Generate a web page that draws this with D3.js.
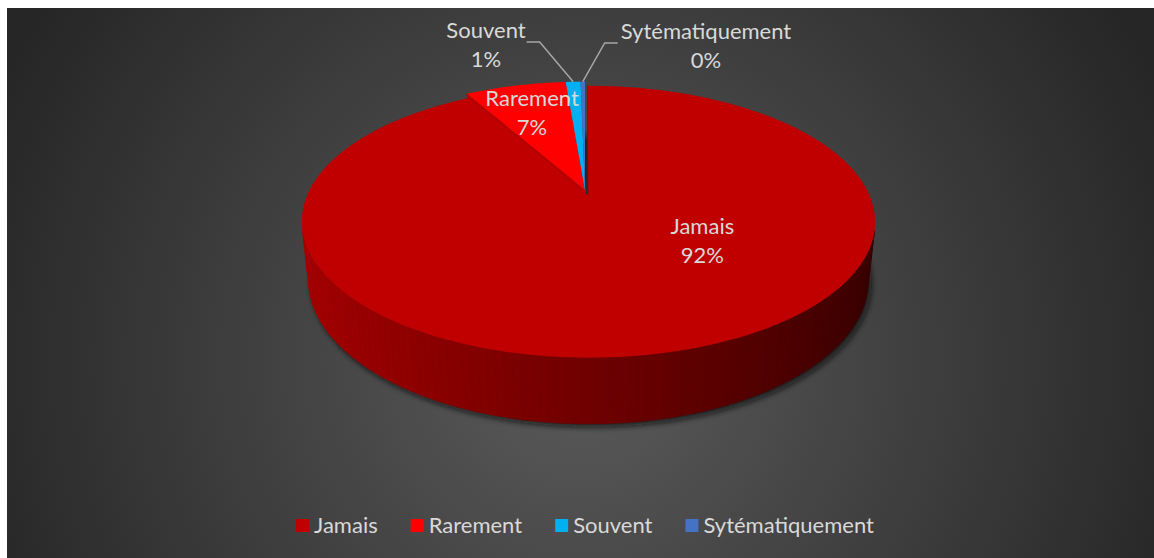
<!DOCTYPE html>
<html>
<head>
<meta charset="utf-8">
<script src="https://cdn.jsdelivr.net/npm/d3@7"></script>
<style>
  html, body { margin: 0; padding: 0; background: #ffffff; }
  svg text { font-family: Lato, "Liberation Sans", sans-serif; }
</style>
</head>
<body>
<svg id="chart" width="1154" height="558"></svg>
<script>
// ---- data ----
const categories = ["Jamais", "Rarement", "Souvent", "Sytématiquement"];
const shares = [0.918, 0.069, 0.010, 0.003];
const colors = ["#C00000", "#FF0000", "#00B0F0", "#4472C4"];

// ---- 3D pie geometry ----
const R = 279;            // disc radius
const DEPTH = 66;         // disc thickness
const PHI = 27.5 * Math.PI / 180;   // elevation of the view
const FOCAL = 1312;       // perspective focal distance
const CX = 585, CY = 190; // screen position of the disc centre
const explodeBy = [13, 0, 0, 0];

const cosP = Math.cos(PHI), sinP = Math.sin(PHI);
const cam = { X: 0, h: FOCAL * sinP, Z: -FOCAL * cosP };

// world (X right, Z away from viewer, h up) -> screen
function proj(X, Z, h) {
  const yw = h * cosP + Z * sinP;
  const d = Z * cosP - h * sinP;
  const s = FOCAL / (FOCAL + d);
  return [CX + X * s, CY - yw * s];
}
function camDist(X, Z, h) {
  return Math.hypot(X - cam.X, Z - cam.Z, h - cam.h);
}
function shade(col, k) {
  const c = d3.rgb(col);
  return d3.rgb(c.r * k, c.g * k, c.b * k).formatHex();
}
// light falls from the left: faces turned left are brighter
const sideLight = a => 0.58 - 0.3 * Math.sin(a);

const svg = d3.select("#chart");
const defs = svg.append("defs");

const bg = defs.append("radialGradient")
  .attr("id", "bgGrad").attr("gradientUnits", "userSpaceOnUse")
  .attr("cx", 580).attr("cy", 360).attr("r", 640);
bg.append("stop").attr("offset", 0).attr("stop-color", "#5b5b5b");
bg.append("stop").attr("offset", 1).attr("stop-color", "#262626");

const blur = defs.append("filter").attr("id", "shadowBlur")
  .attr("x", "-10%").attr("y", "-10%").attr("width", "120%").attr("height", "120%");
blur.append("feGaussianBlur").attr("stdDeviation", 3);

svg.append("rect").attr("x", 7).attr("y", 8)
  .attr("width", 1147).attr("height", 550).attr("fill", "url(#bgGrad)");

const slices = d3.pie().sort(null).value(d => d)(shares);
const line = d3.line();

const sideFaces = [], topFaces = [], bottomFaces = [];
slices.forEach((sl, i) => {
  const a0 = sl.startAngle, a1 = sl.endAngle, mid = (a0 + a1) / 2;
  const ox = explodeBy[i] * Math.sin(mid), oz = explodeBy[i] * Math.cos(mid);
  const n = Math.max(1, Math.ceil((a1 - a0) / (1.5 * Math.PI / 180)));
  const angs = d3.range(n + 1).map(k => a0 + (a1 - a0) * k / n);
  const rx = a => ox + R * Math.sin(a), rz = a => oz + R * Math.cos(a);
  const col = colors[i];

  // curved outer wall
  for (let k = 0; k < n; k++) {
    const b0 = angs[k], b1 = angs[k + 1], bm = (b0 + b1) / 2;
    const px = rx(bm), pz = rz(bm);
    const nx = Math.sin(bm), nz = Math.cos(bm);
    if (nx * (cam.X - px) + nz * (cam.Z - pz) <= 0) continue;
    sideFaces.push({
      pts: [proj(rx(b0), rz(b0), 0), proj(rx(b1), rz(b1), 0),
            proj(rx(b1), rz(b1), -DEPTH), proj(rx(b0), rz(b0), -DEPTH)],
      dist: camDist(px, pz, -DEPTH / 2),
      fill: shade(col, sideLight(bm))
    });
  }
  // flat radial walls at both ends of the wedge
  [[a0, -Math.cos(a0), Math.sin(a0), a0 - Math.PI / 2],
   [a1, Math.cos(a1), -Math.sin(a1), a1 + Math.PI / 2]].forEach(([a, nx, nz, na]) => {
    const px = ox + R / 2 * Math.sin(a), pz = oz + R / 2 * Math.cos(a);
    if (nx * (cam.X - px) + nz * (cam.Z - pz) <= 0) return;
    sideFaces.push({
      pts: [proj(ox, oz, 0), proj(rx(a), rz(a), 0),
            proj(rx(a), rz(a), -DEPTH), proj(ox, oz, -DEPTH)],
      dist: camDist(px, pz, -DEPTH / 2),
      fill: shade(col, sideLight(na) * 0.85)
    });
  });
  const ring = h => [proj(ox, oz, h)].concat(angs.map(a => proj(rx(a), rz(a), h)));
  topFaces.push({ pts: ring(0), fill: col });
  bottomFaces.push({ pts: ring(-DEPTH) });
});

// shadow under the disc
svg.append("g").attr("filter", "url(#shadowBlur)")
  .attr("transform", "translate(3,3)")
  .selectAll("path").data(bottomFaces).join("path")
  .attr("d", d => line(d.pts) + "Z")
  .attr("fill", "#111111").attr("fill-opacity", 0.85);

sideFaces.sort((p, q) => q.dist - p.dist);
svg.append("g").selectAll("path").data(sideFaces).join("path")
  .attr("d", d => line(d.pts) + "Z")
  .attr("fill", d => d.fill).attr("stroke", d => d.fill).attr("stroke-width", 0.6);

svg.append("g").selectAll("path").data(topFaces).join("path")
  .attr("d", d => line(d.pts) + "Z")
  .attr("fill", d => d.fill);

// ---- data labels ----
const pct = d3.format(".0%");
const FONT = 22, LINE_H = 29, TEXT_COL = "#d9d9d9";

function polarOnTop(i, angle, r) {
  const sl = slices[i], mid = (sl.startAngle + sl.endAngle) / 2;
  const ox = explodeBy[i] * Math.sin(mid), oz = explodeBy[i] * Math.cos(mid);
  return proj(ox + r * Math.sin(angle), oz + r * Math.cos(angle), 0);
}
const midAngle = i => (slices[i].startAngle + slices[i].endAngle) / 2;

// inside labels: [slice, angle, radius fraction]
const insideLabels = [
  [0, 129 * Math.PI / 180, 0.49],
  [1, midAngle(1), 0.73]
];
// outside labels with leader lines: [slice, label centre x, label centre y, side]
const outsideLabels = [
  [2, 486, 43, "left"],
  [3, 706, 44, "right"]
];

const labelG = svg.append("g").attr("fill", TEXT_COL).attr("font-size", FONT);

function drawLabel(i, x, y) {
  const t = labelG.append("text").attr("text-anchor", "middle");
  t.append("tspan").attr("x", x).attr("y", y - 5).text(categories[i]);
  t.append("tspan").attr("x", x).attr("y", y + LINE_H - 5).text(pct(shares[i]));
  return t;
}
insideLabels.forEach(([i, a, rf]) => {
  const [x, y] = polarOnTop(i, a, rf * R);
  drawLabel(i, x, y);
});
outsideLabels.forEach(([i, x, y, side]) => {
  const t = drawLabel(i, x, y);
  const w = t.node().getBBox().width;
  const [ex, ey] = polarOnTop(i, midAngle(i), R);
  const sx = side === "left" ? x + w / 2 + 1 : x - w / 2 - 3;
  const kx = side === "left" ? sx + 13 : sx - 13;
  svg.append("path")
    .attr("d", line([[sx, y - 1], [kx, y - 1], [ex, ey]]))
    .attr("fill", "none").attr("stroke", "#a6a6a6").attr("stroke-width", 1.5);
});

// ---- legend ----
const LEG_Y = 533, SQ = 13, SQ_GAP = 5, ITEM_GAP = 33;
const legend = svg.append("g").attr("font-size", FONT).attr("fill", TEXT_COL);
const items = categories.map((c, i) => {
  const g = legend.append("g");
  g.append("rect").attr("width", SQ).attr("height", SQ).attr("y", LEG_Y - 14).attr("fill", colors[i]);
  const t = g.append("text").attr("x", SQ + SQ_GAP).attr("y", LEG_Y).text(c);
  return { g, w: SQ + SQ_GAP + t.node().getComputedTextLength() };
});
const total = d3.sum(items, d => d.w) + ITEM_GAP * (items.length - 1);
let x0 = 585 - total / 2;
items.forEach(it => { it.g.attr("transform", `translate(${x0},0)`); x0 += it.w + ITEM_GAP; });
</script>
</body>
</html>
